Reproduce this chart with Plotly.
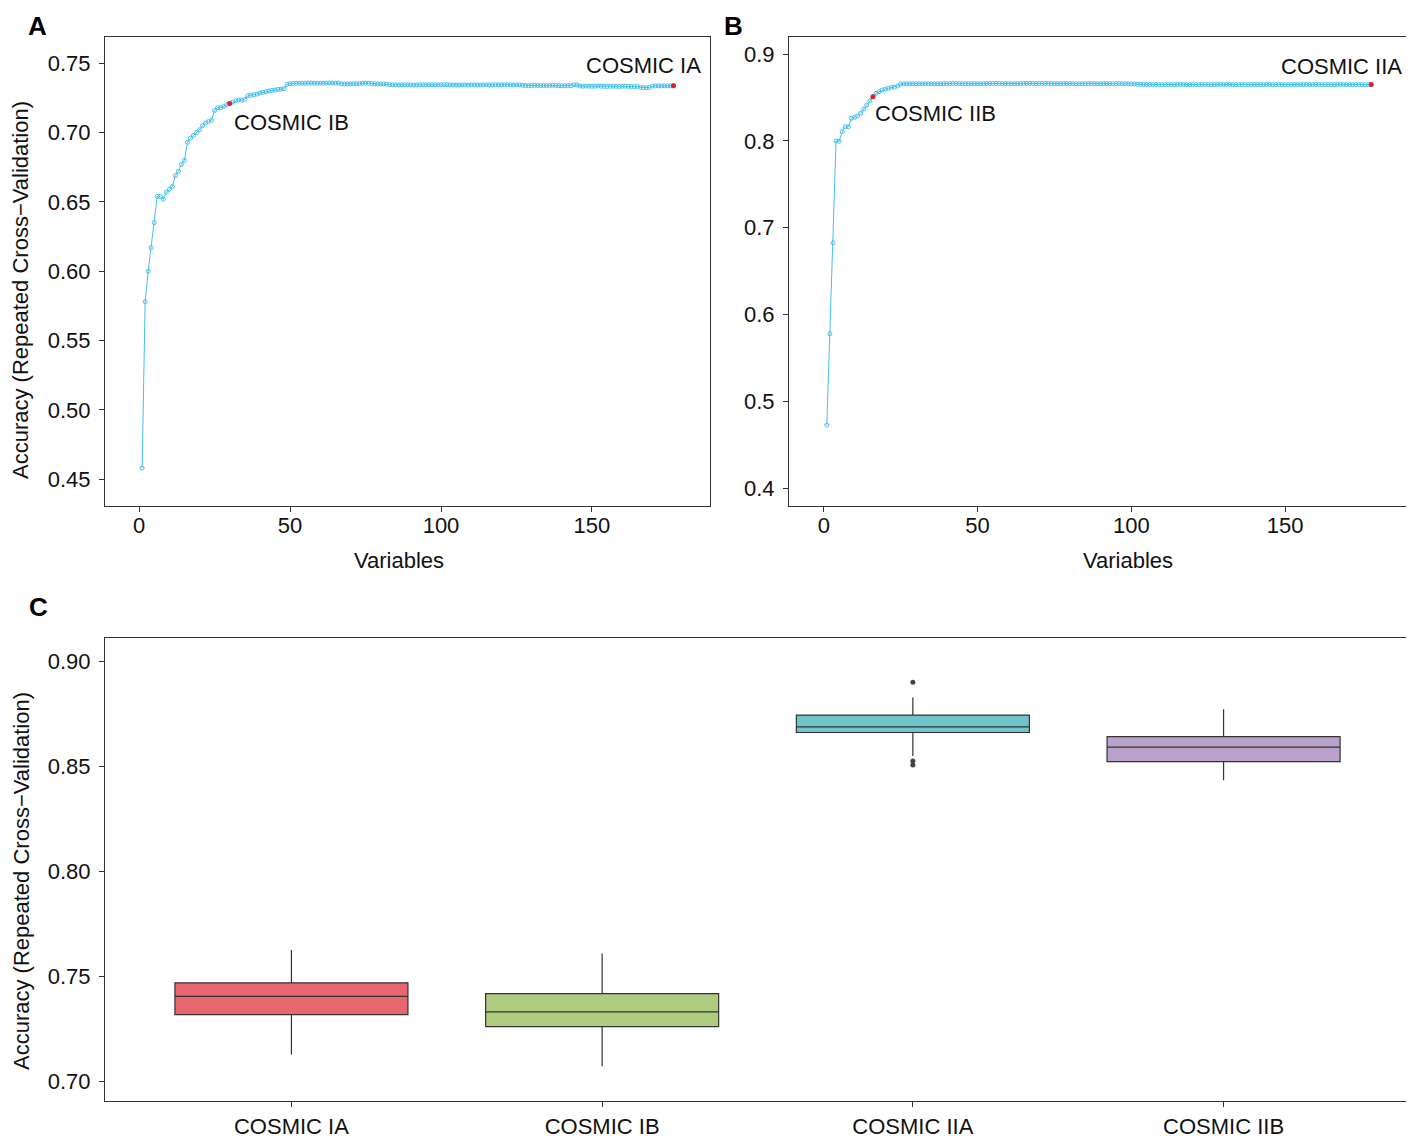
import plotly.graph_objects as go

# panel A: accuracy by number of variables, COSMIC I
acc_ia = [
    0.458, 0.578, 0.600, 0.617, 0.635, 0.654, 0.654, 0.652, 0.657, 0.659,
    0.661, 0.669, 0.672, 0.677, 0.680, 0.693, 0.696, 0.698, 0.700, 0.702,
    0.705, 0.707, 0.708, 0.709, 0.716, 0.718, 0.718, 0.719, 0.720, 0.721,
    0.722, 0.723, 0.7235, 0.7235, 0.724, 0.7266, 0.7269, 0.7273, 0.7278, 0.7286,
    0.7291, 0.7295, 0.7300, 0.7305, 0.7307, 0.7312, 0.7314, 0.7317, 0.7348, 0.7353,
    0.7355, 0.7356, 0.7356, 0.7357, 0.7356, 0.7357, 0.7358, 0.7357, 0.7356, 0.7357,
    0.7356, 0.7358, 0.7359, 0.7358, 0.7357, 0.7358, 0.7353, 0.7352, 0.7351, 0.7352,
    0.7353, 0.7352, 0.7354, 0.7356, 0.7358, 0.7357, 0.7355, 0.7353, 0.7352, 0.7351,
    0.7352, 0.7350, 0.7346, 0.7345, 0.7345, 0.7344, 0.7345, 0.7346, 0.7345, 0.7344,
    0.7343, 0.7344, 0.7345, 0.7345, 0.7344, 0.7345, 0.7346, 0.7345, 0.7344, 0.7345,
    0.7346, 0.7347, 0.7345, 0.7344, 0.7343, 0.7344, 0.7345, 0.7344, 0.7343, 0.7344,
    0.7345, 0.7344, 0.7343, 0.7344, 0.7345, 0.7344, 0.7345, 0.7346, 0.7345, 0.7344,
    0.7345, 0.7346, 0.7345, 0.7344, 0.7345, 0.7344, 0.7341, 0.7340, 0.7339, 0.7340,
    0.7341, 0.7340, 0.7339, 0.7340, 0.7339, 0.7340, 0.7341, 0.7340, 0.7339, 0.7338,
    0.7339, 0.7340, 0.7339, 0.7345, 0.7344, 0.7336, 0.7335, 0.7336, 0.7335, 0.7334,
    0.7335, 0.7336, 0.7335, 0.7334, 0.7333, 0.7334, 0.7335, 0.7334, 0.7333, 0.7334,
    0.7335, 0.7334, 0.7333, 0.7332, 0.7333, 0.7326, 0.7325, 0.7324, 0.7326, 0.7336,
    0.7337, 0.7338, 0.7337, 0.7338, 0.7337, 0.7338, 0.7339,
]

# panel B: accuracy by number of variables, COSMIC II
acc_iia = [
    0.4726, 0.5778, 0.6826, 0.7998, 0.7994, 0.8105, 0.8163, 0.8163, 0.8259, 0.8271,
    0.8286, 0.8317, 0.8366, 0.8412, 0.8459, 0.8508, 0.8547, 0.8566, 0.8585, 0.8597,
    0.8605, 0.8616, 0.8618, 0.8631, 0.8654, 0.8656, 0.8657, 0.8656, 0.8657, 0.8658,
    0.8657, 0.8656, 0.8657, 0.8658, 0.8657, 0.8656, 0.8657, 0.8658, 0.8659, 0.8658,
    0.8660, 0.8661, 0.8660, 0.8659, 0.8660, 0.8658, 0.8657, 0.8658, 0.8659, 0.8658,
    0.8657, 0.8659, 0.8660, 0.8661, 0.8660, 0.8661, 0.8660, 0.8659, 0.8660, 0.8658,
    0.8657, 0.8658, 0.8659, 0.8660, 0.8661, 0.8662, 0.8661, 0.8660, 0.8659, 0.8660,
    0.8661, 0.8662, 0.8661, 0.8660, 0.8659, 0.8658, 0.8659, 0.8660, 0.8661, 0.8660,
    0.8659, 0.8658, 0.8657, 0.8658, 0.8659, 0.8660, 0.8659, 0.8658, 0.8657, 0.8658,
    0.8659, 0.8660, 0.8659, 0.8658, 0.8659, 0.8660, 0.8659, 0.8658, 0.8657, 0.8656,
    0.8655, 0.8652, 0.8650, 0.8649, 0.8648, 0.8649, 0.8648, 0.8649, 0.8648, 0.8647,
    0.8648, 0.8649, 0.8648, 0.8647, 0.8648, 0.8649, 0.8648, 0.8647, 0.8648, 0.8649,
    0.8648, 0.8647, 0.8648, 0.8649, 0.8648, 0.8647, 0.8648, 0.8649, 0.8648, 0.8647,
    0.8648, 0.8649, 0.8648, 0.8647, 0.8648, 0.8649, 0.8648, 0.8647, 0.8648, 0.8649,
    0.8648, 0.8647, 0.8648, 0.8649, 0.8648, 0.8647, 0.8648, 0.8649, 0.8648, 0.8647,
    0.8648, 0.8649, 0.8648, 0.8647, 0.8648, 0.8649, 0.8648, 0.8647, 0.8648, 0.8649,
    0.8648, 0.8647, 0.8648, 0.8649, 0.8648, 0.8647, 0.8648, 0.8649, 0.8648, 0.8647,
    0.8648, 0.8647, 0.8648, 0.8649, 0.8648, 0.8647, 0.8648, 0.8648,
]

n_ib = 30    # variables kept in COSMIC IB
n_iib = 16   # variables kept in COSMIC IIB

# panel C: resampled accuracy of the four models
models = ["COSMIC IA", "COSMIC IB", "COSMIC IIA", "COSMIC IIB"]
q1 = [0.7316, 0.7259, 0.8660, 0.8521]
med = [0.7403, 0.7329, 0.8687, 0.8590]
q3 = [0.7468, 0.7416, 0.8743, 0.8640]
lo = [0.7127, 0.7071, 0.8548, 0.8433]
hi = [0.7624, 0.7608, 0.8827, 0.8771]
outlier_model = ["COSMIC IIA", "COSMIC IIA", "COSMIC IIA"]
outlier_val = [0.8899, 0.8524, 0.8505]
box_cols = ["#E8666F", "#AFCB80", "#70C4CA", "#BBA2CA"]

FONT = "Liberation Sans, Arial, sans-serif"
blue = "#45BFEF"
red = "#E0202A"
ytitle = "Accuracy (Repeated Cross\u2212Validation)"

# page body adds an 8px margin; positions below are taken from the
# reference and moved back by that amount
W, H, OFF = 1414, 1136, 8


def fx(px):
    return (px - OFF) / W


def fy(py):
    return 1 - (py - OFF) / H


fig = go.Figure()

x_ia = list(range(1, len(acc_ia) + 1))
x_iia = list(range(1, len(acc_iia) + 1))

fig.add_scatter(x=x_ia, y=acc_ia, mode="lines+markers", xaxis="x", yaxis="y",
                line=dict(color=blue, width=1),
                marker=dict(symbol="circle-open", size=4, color=blue, line=dict(width=1)))
fig.add_scatter(x=[n_ib, x_ia[-1]], y=[acc_ia[n_ib - 1], acc_ia[-1]], mode="markers",
                xaxis="x", yaxis="y", marker=dict(size=5, color=red))

fig.add_scatter(x=x_iia, y=acc_iia, mode="lines+markers", xaxis="x2", yaxis="y2",
                line=dict(color=blue, width=1),
                marker=dict(symbol="circle-open", size=4, color=blue, line=dict(width=1)))
fig.add_scatter(x=[n_iib, x_iia[-1]], y=[acc_iia[n_iib - 1], acc_iia[-1]], mode="markers",
                xaxis="x2", yaxis="y2", marker=dict(size=5, color=red))

for i, m in enumerate(models):
    fig.add_box(x=[m], q1=[q1[i]], median=[med[i]], q3=[q3[i]],
                lowerfence=[lo[i]], upperfence=[hi[i]], width=0.75,
                xaxis="x3", yaxis="y3", boxpoints=False,
                fillcolor=box_cols[i], line=dict(color="#333333", width=1.2),
                whiskerwidth=0)
fig.add_scatter(x=outlier_model, y=outlier_val, mode="markers", xaxis="x3", yaxis="y3",
                marker=dict(size=5, color="#444444"))

ax = dict(showline=True, mirror=True, linecolor="#333333", linewidth=1.2,
          ticks="outside", ticklen=5, tickcolor="#333333", showgrid=False,
          zeroline=False, automargin=False,
          tickfont=dict(size=22, color="#111111"))

fig.update_layout(
    width=W, height=H,
    margin=dict(l=0, r=0, t=0, b=0),
    paper_bgcolor="white", plot_bgcolor="white",
    font=dict(family=FONT, color="#111111"),
    showlegend=False,
    xaxis=dict(ax, domain=[fx(105), fx(710)], range=[-11.3, 189.1],
               tickvals=[0, 50, 100, 150], ticklabelstandoff=-6, anchor="y"),
    yaxis=dict(ax, domain=[fy(506), fy(37)], range=[0.4306, 0.769],
               tickvals=[0.45, 0.50, 0.55, 0.60, 0.65, 0.70, 0.75], tickformat=".2f",
               ticklabelstandoff=4, anchor="x"),
    xaxis2=dict(ax, domain=[fx(789), fx(1409)], range=[-11.3, 190.3],
                tickvals=[0, 50, 100, 150], ticklabelstandoff=-6, anchor="y2"),
    yaxis2=dict(ax, domain=[fy(506), fy(37)], range=[0.3793, 0.9196],
                tickvals=[0.4, 0.5, 0.6, 0.7, 0.8, 0.9], tickformat=".1f",
                ticklabelstandoff=4, anchor="x2"),
    xaxis3=dict(ax, domain=[fx(105), fx(1410)], range=[-0.6, 3.6], type="category",
                categoryorder="array", categoryarray=models, anchor="y3"),
    yaxis3=dict(ax, domain=[fy(1101), fy(638)], range=[0.6905, 0.911],
                tickvals=[0.70, 0.75, 0.80, 0.85, 0.90], tickformat=".2f",
                ticklabelstandoff=4, anchor="x3"),
)

lab = dict(showarrow=False, font=dict(size=22, color="#111111"))
fig.add_annotation(lab, x=x_ia[-1], y=acc_ia[-1], xref="x", yref="y", text="COSMIC IA",
                   xanchor="right", yanchor="bottom", xshift=30, yshift=6)
fig.add_annotation(lab, x=n_ib, y=acc_ia[n_ib - 1], xref="x", yref="y", text="COSMIC IB",
                   xanchor="left", yanchor="top", xshift=2, yshift=-4)
fig.add_annotation(lab, x=x_iia[-1], y=acc_iia[-1], xref="x2", yref="y2", text="COSMIC IIA",
                   xanchor="right", yanchor="bottom", xshift=33, yshift=4)
fig.add_annotation(lab, x=n_iib, y=acc_iia[n_iib - 1], xref="x2", yref="y2", text="COSMIC IIB",
                   xanchor="left", yanchor="top", xshift=0, yshift=-2)

# axis titles (kept a few px inside the page edge so nothing is clipped)
title_font = dict(size=22, color="#111111")
for txt, px, py, ang in [(ytitle, 21, 290, -90), (ytitle, 21, 881, -90),
                         ("Variables", 399, 560, 0), ("Variables", 1128, 560, 0)]:
    fig.add_annotation(x=fx(px), y=fy(py), xref="paper", yref="paper", text=txt,
                       textangle=ang, showarrow=False, xanchor="center",
                       yanchor="middle", font=title_font)

# panel letters
for letter, px, py in [("A", 37, 26), ("B", 733, 26), ("C", 38, 607)]:
    fig.add_annotation(x=fx(px), y=fy(py), xref="paper", yref="paper",
                       text="<b>" + letter + "</b>", showarrow=False,
                       xanchor="center", yanchor="middle",
                       font=dict(size=26, color="#000000"))

fig.write_html("out.html")
